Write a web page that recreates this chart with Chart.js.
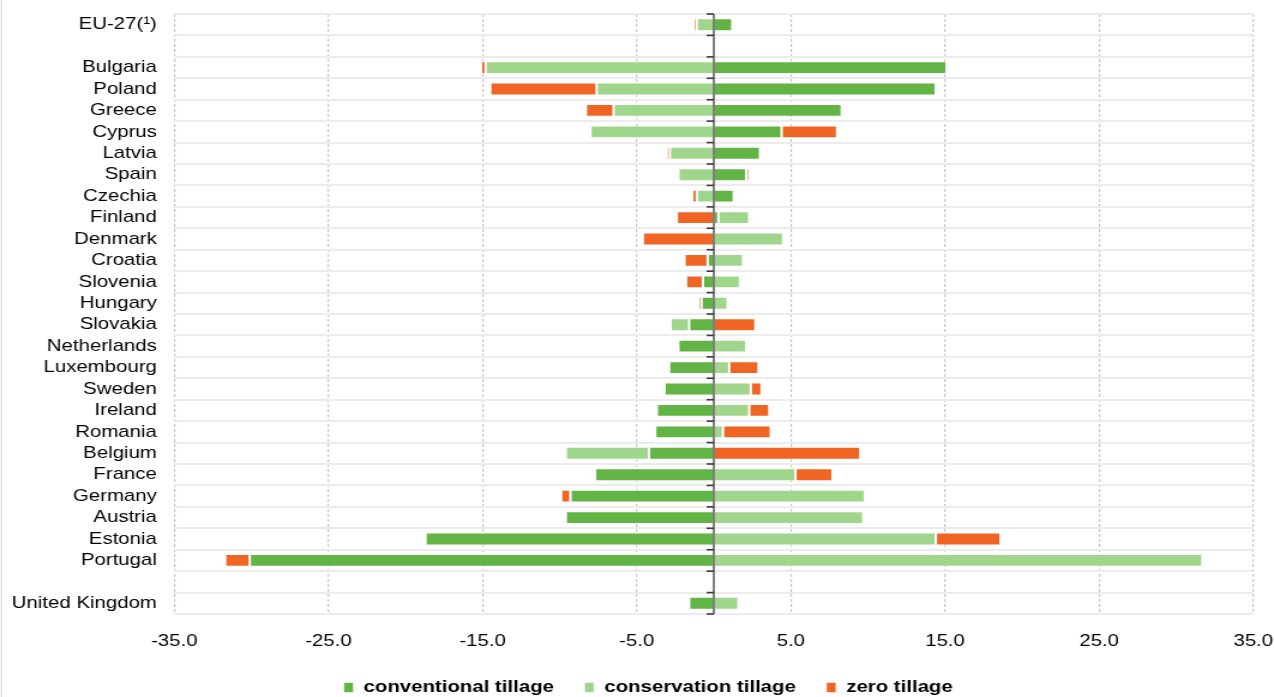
<!DOCTYPE html>
<html>
<head>
<meta charset="utf-8">
<title>Change in tillage practices</title>
<script src="https://cdn.jsdelivr.net/npm/chart.js@4/dist/chart.umd.min.js"></script>
<style>
  html, body { margin: 0; padding: 0; background: #fff; overflow: hidden; }
  #frame { position: relative; width: 1274px; height: 697px; overflow: hidden; background: #fff; }
  #frame canvas { display: block; width: 1274px !important; height: 706px !important; }
  #edge { position: absolute; left: 1px; top: 0; width: 1px; height: 697px; background: #d9d9d9; }
</style>
</head>
<body>
<div id="frame">
  <canvas id="chart" width="1062" height="706"></canvas>
  <div id="edge"></div>
</div>
<script>
// Rows from top to bottom; empty strings are spacer rows.
const categories = [
  'EU-27(¹)', '',
  'Bulgaria', 'Poland', 'Greece', 'Cyprus', 'Latvia', 'Spain', 'Czechia', 'Finland',
  'Denmark', 'Croatia', 'Slovenia', 'Hungary', 'Slovakia', 'Netherlands', 'Luxembourg',
  'Sweden', 'Ireland', 'Romania', 'Belgium', 'France', 'Germany', 'Austria', 'Estonia',
  'Portugal', '', 'United Kingdom'
];

// Change in share of arable area, percentage points
const conventional = [
  1.2, null,
  15.1, 14.4, 8.3, 4.4, 3.0, 2.1, 1.3, 0.3,
  0.0, -0.4, -0.7, -0.8, -1.6, -2.3, -2.9,
  -3.2, -3.7, -3.8, -4.2, -7.7, -9.3, -9.6, -18.7,
  -30.1, null, -1.6
];
const conservation = [
  -1.1, null,
  -14.8, -7.6, -6.5, -8.0, -2.85, -2.3, -1.1, 2.0,
  4.5, 1.9, 1.7, 0.9, -1.2, 2.1, 1.0,
  2.4, 2.3, 0.6, -5.4, 5.3, 9.8, 9.7, 14.4,
  31.7, null, 1.6
];
const zeroTillage = [
  -0.2, null,
  -0.3, -6.9, -1.8, 3.6, -0.2, 0.2, -0.3, -2.4,
  -4.6, -1.5, -1.1, -0.2, 2.7, 0.1, 1.9,
  0.7, 1.3, 3.1, 9.5, 2.4, -0.6, -0.1, 4.2,
  -1.6, null, 0.0
];

const seriesNames = ['conventional tillage', 'conservation tillage', 'zero tillage'];
const seriesColors = ['#62b445', '#a0d68c', '#f06524'];

const FONT = "'Liberation Sans', Arial, sans-serif";

// Solid axis at zero with short ticks at each row boundary
const zeroAxis = {
  id: 'zeroAxis',
  afterLayout(chart) {
    // nudge the legend row slightly right of the canvas centre
    const lg = chart.legend;
    if (lg) { lg.left += 13; lg.right += 13; }
  },
  afterDatasetsDraw(chart) {
    const { ctx, chartArea, scales: { x, y } } = chart;
    const x0 = x.getPixelForValue(0);
    ctx.save();
    ctx.strokeStyle = '#3a3a3a';
    ctx.lineWidth = 1.3;
    ctx.beginPath();
    ctx.moveTo(x0, chartArea.top);
    ctx.lineTo(x0, chartArea.bottom);
    ctx.stroke();
    ctx.lineWidth = 1.6;
    for (let i = 0; i <= categories.length; i++) {
      const yy = y.getPixelForValue(i - 0.5);
      ctx.beginPath();
      ctx.moveTo(x0 - 6, yy);
      ctx.lineTo(x0, yy);
      ctx.stroke();
    }
    ctx.restore();
  }
};

const values = [conventional, conservation, zeroTillage];

new Chart(document.getElementById('chart'), {
  type: 'bar',
  data: {
    labels: categories,
    datasets: values.map((data, i) => ({
      label: seriesNames[i],
      data: data,
      backgroundColor: seriesColors[i],
      borderColor: 'rgba(255,255,255,0.6)',
      borderWidth: 1,
      borderSkipped: false,
      barPercentage: 0.6,
      categoryPercentage: 1.0
    }))
  },
  options: {
    indexAxis: 'y',
    responsive: false,
    animation: false,
    layout: { padding: { top: 14, left: 10, right: 17.25, bottom: 0 } },
    scales: {
      x: {
        stacked: true,
        min: -35,
        max: 35,
        ticks: {
          stepSize: 10,
          padding: 17,
          color: '#000',
          font: { family: FONT, size: 17 },
          callback: v => Number(v).toFixed(1)
        },
        grid: { color: '#c8c8c8', lineWidth: 1.2, drawTicks: false },
        border: { display: false, dash: [3, 2] },
        afterFit: s => { s.height = 39.5; s.paddingLeft = 0; s.paddingRight = 0; }
      },
      y: {
        stacked: true,
        ticks: {
          padding: 14.5,
          color: '#000',
          font: { family: FONT, size: 17 },
          autoSkip: false
        },
        grid: { color: '#ececec', lineWidth: 2, drawTicks: false, offset: true },
        border: { display: false },
        afterFit: s => { s.width = 135.25; s.paddingTop = 0; s.paddingBottom = 0; }
      }
    },
    plugins: {
      legend: {
        position: 'bottom',
        labels: {
          boxWidth: 8,
          boxHeight: 10,
          padding: 25.5,
          color: '#000',
          font: { family: FONT, size: 17, weight: 'bold' }
        }
      },
      tooltip: { enabled: false }
    }
  },
  plugins: [zeroAxis]
});
</script>
</body>
</html>
